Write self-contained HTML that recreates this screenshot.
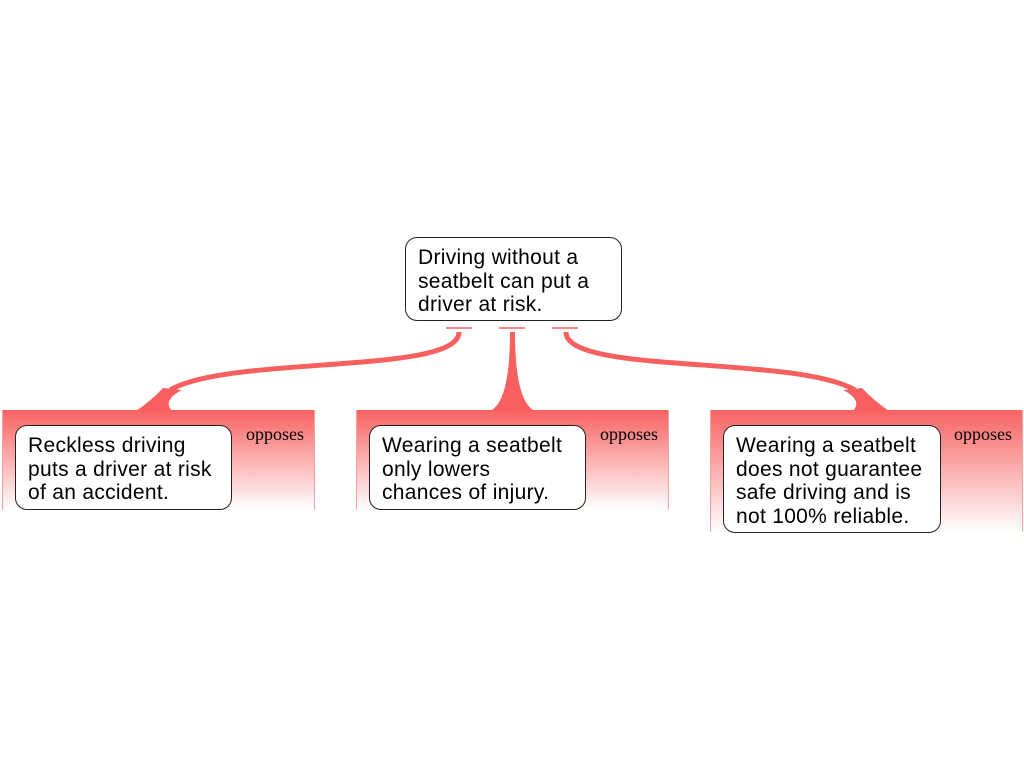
<!DOCTYPE html>
<html><head><style>
body{margin:0;width:1024px;height:768px;background:#fff;position:relative;overflow:hidden;font-family:"Liberation Sans",sans-serif}
.p{position:absolute;background:linear-gradient(#f86262,#ffffff);border-left:1px solid #f8a0a0;border-right:1px solid #f8a0a0;box-sizing:border-box}
.b{position:absolute;background:#fff;border:1px solid #222;border-radius:12px;box-sizing:border-box;padding:8px 12px;font-size:21px;letter-spacing:0.3px;line-height:23.5px;color:#000;white-space:nowrap}
.o{position:absolute;font-family:"Liberation Serif",serif;font-size:18px;color:#000}
</style></head><body>
<div class="p" style="left:2px;top:410px;width:313px;height:100px"></div>
<div class="p" style="left:356px;top:410px;width:313px;height:100px"></div>
<div class="p" style="left:710px;top:410px;width:313px;height:122px"></div>
<svg style="position:absolute;left:0;top:0" width="1024" height="768">
<g fill="none" stroke="#f86060" stroke-width="5">
<path d="M459,332 C459,375 230,355 170,390"/>
<path d="M566,332 C566,375 795,355 855,390"/>
</g>
<g fill="#f86060">
<path d="M136,411 Q152,400 163,388 L182,390 Q162,400 172,411Z"/>
<path d="M889,411 Q873,400 862,388 L843,390 Q863,400 853,411Z"/>
<path d="M510,332 L515,332 Q515,402 535,411 L490,411 Q510,402 510,332Z"/>
</g>
<g stroke="#f86060" stroke-width="1.5">
<line x1="446" y1="328" x2="472" y2="328"/>
<line x1="499" y1="328" x2="525" y2="328"/>
<line x1="552" y1="328" x2="578" y2="328"/>
</g>
</svg>
<div class="b" style="left:405px;top:237px;width:217px;height:84px">Driving without a<br>seatbelt can put a<br>driver at risk.</div>
<div class="b" style="left:15px;top:425px;width:217px;height:85px">Reckless driving<br>puts a driver at risk<br>of an accident.</div>
<div class="b" style="left:369px;top:425px;width:217px;height:85px">Wearing a seatbelt<br>only lowers<br>chances of injury.</div>
<div class="b" style="left:723px;top:425px;width:218px;height:108px">Wearing a seatbelt<br>does not guarantee<br>safe driving and is<br>not 100% reliable.</div>
<div class="o" style="left:246px;top:424px">opposes</div>
<div class="o" style="left:600px;top:424px">opposes</div>
<div class="o" style="left:954px;top:424px">opposes</div>
</body></html>
